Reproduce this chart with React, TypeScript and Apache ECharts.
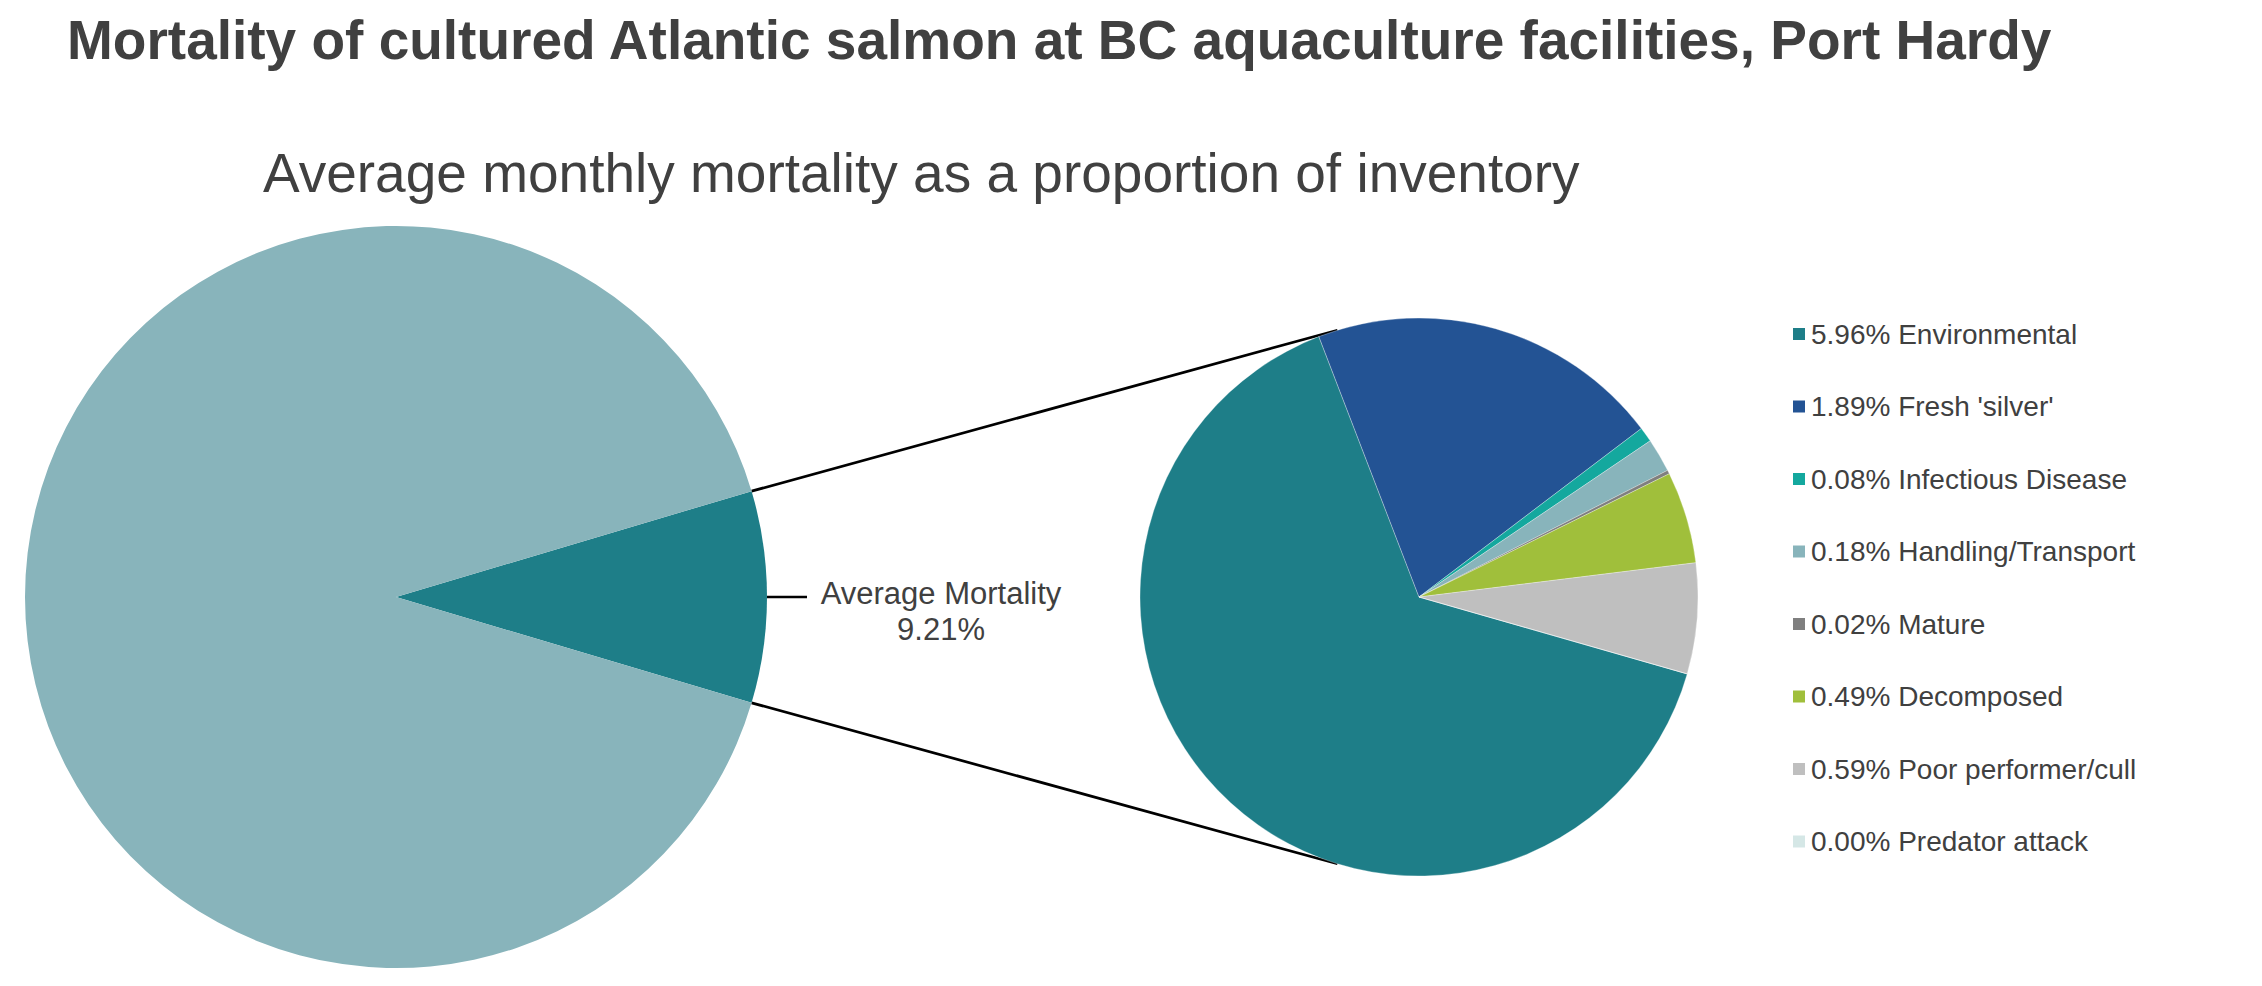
import * as echarts from "echarts";
import React, { useEffect, useRef } from "react";

const overviewNames = ["Average Mortality", "Remaining inventory"];
const overviewValues = [9.21, 90.79];
const overviewColors = ["#1E7E88", "#88B4BB"];

const causes = [
  "Environmental",
  "Fresh 'silver'",
  "Infectious Disease",
  "Handling/Transport",
  "Mature",
  "Decomposed",
  "Poor performer/cull",
  "Predator attack",
];
const causeRates = [5.96, 1.89, 0.08, 0.18, 0.02, 0.49, 0.59, 0.0];
const causeColors = [
  "#1E7E88",
  "#235394",
  "#14A89E",
  "#88B4BB",
  "#7F7F7F",
  "#A0BF3B",
  "#BFBFBF",
  "#D5E7E6",
];

const FONT = "'Liberation Sans', Arial, sans-serif";
const TEXT = "#404040";

// pie geometry
const LEFT = { cx: 396, cy: 597, r: 371 };
const RIGHT = { cx: 1419, cy: 597, r: 279 };
const RIGHT_START = -16;
const CONNECT_ANGLE = 107;

const MortalityChart: React.FC = () => {
  const chartRef = useRef<HTMLDivElement | null>(null);

  useEffect(() => {
    document.body.style.margin = "0";
    const chart = echarts.init(chartRef.current, null, { renderer: "svg" });

    const leftStart = ((overviewValues[0] / (overviewValues[0] + overviewValues[1])) * 360) / 2;
    const rad = Math.PI / 180;
    const pt = (p: { cx: number; cy: number; r: number }, deg: number) => [
      p.cx + p.r * Math.cos(deg * rad),
      p.cy - p.r * Math.sin(deg * rad),
    ];
    const lt = pt(LEFT, leftStart);
    const lb = pt(LEFT, -leftStart);
    const rt = pt(RIGHT, CONNECT_ANGLE);
    const rb = pt(RIGHT, -CONNECT_ANGLE);

    chart.setOption({
      animation: false,
      title: [
        {
          text: "Mortality of cultured Atlantic salmon at BC aquaculture facilities, Port Hardy",
          left: 62,
          top: 7,
          textStyle: { fontFamily: FONT, fontSize: 55, fontWeight: "bold", color: TEXT },
        },
        {
          text: "Average monthly mortality as a proportion of inventory",
          left: 258,
          top: 140,
          textStyle: { fontFamily: FONT, fontSize: 55, fontWeight: "normal", color: TEXT },
        },
      ],
      legend: {
        orient: "vertical",
        left: 1786,
        top: 315,
        itemWidth: 14,
        itemHeight: 14,
        itemGap: 44.5,
        icon: "rect",
        selectedMode: false,
        data: causes,
        formatter: (name: string) => {
          const i = causes.indexOf(name);
          return `${causeRates[i].toFixed(2)}% ${name}`;
        },
        textStyle: { fontFamily: FONT, fontSize: 28, color: TEXT },
      },
      graphic: [
        {
          type: "line",
          silent: true,
          shape: { x1: lt[0], y1: lt[1], x2: rt[0], y2: rt[1] },
          style: { stroke: "#000", lineWidth: 2.7 },
        },
        {
          type: "line",
          silent: true,
          shape: { x1: lb[0], y1: lb[1], x2: rb[0], y2: rb[1] },
          style: { stroke: "#000", lineWidth: 2.7 },
        },
      ],
      series: [
        {
          name: "Overview",
          type: "pie",
          center: [LEFT.cx, LEFT.cy],
          radius: LEFT.r,
          startAngle: leftStart,
          clockwise: true,
          silent: true,
          emphasis: { disabled: true },
          data: overviewNames.map((name, i) => ({
            name,
            value: overviewValues[i],
            itemStyle: { color: overviewColors[i] },
            label:
              i === 0
                ? {
                    show: true,
                    position: "outside",
                    distanceToLabelLine: 9,
                    padding: [28, 0, 0, 0],
                    formatter: (p: any) => `{a|${p.name}}\n{a|${p.value.toFixed(2)}%}`,
                    rich: {
                      a: {
                        width: 250,
                        align: "center",
                        fontFamily: FONT,
                        fontSize: 31,
                        lineHeight: 36,
                        color: TEXT,
                      },
                    },
                  }
                : { show: false },
            labelLine:
              i === 0
                ? { show: true, length: 16, length2: 24, lineStyle: { color: "#000", width: 2.5 } }
                : { show: false },
          })),
        },
        {
          name: "Causes",
          type: "pie",
          center: [RIGHT.cx, RIGHT.cy],
          radius: RIGHT.r,
          startAngle: RIGHT_START,
          clockwise: true,
          silent: true,
          emphasis: { disabled: true },
          label: { show: false },
          labelLine: { show: false },
          itemStyle: { borderColor: "#fff", borderWidth: 0.3 },
          data: causes.map((name, i) => ({
            name,
            value: causeRates[i],
            itemStyle: { color: causeColors[i] },
          })),
        },
      ],
    });

    return () => {
      chart.dispose();
    };
  }, []);

  return <div ref={chartRef} style={{ width: "2262px", height: "986px" }}></div>;
};

export default function App() {
  return <MortalityChart />;
}
